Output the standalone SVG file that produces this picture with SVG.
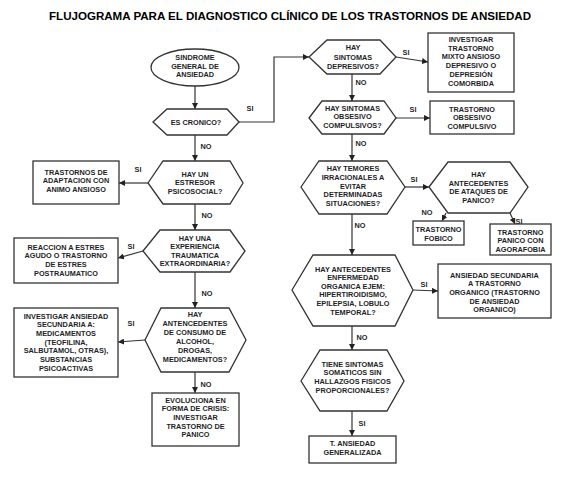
<svg xmlns="http://www.w3.org/2000/svg" width="579" height="477" viewBox="0 0 579 477">
<style>
.n{fill:#fff;stroke:#333;stroke-width:1.3}
.t{font-family:"Liberation Sans",Arial,sans-serif;font-size:7.3px;font-weight:bold;fill:#1e1e28;text-anchor:middle}
.c{fill:none;stroke:#333;stroke-width:1.2;marker-end:url(#a)}
.title{font-family:"Liberation Sans",Arial,sans-serif;font-size:10.2px;font-weight:bold;fill:#000;text-anchor:middle}
</style>
<defs>
<marker id="a" viewBox="0 0 10 10" refX="10" refY="5" markerWidth="6" markerHeight="6" markerUnits="userSpaceOnUse" orient="auto">
<path d="M0,0 L10,5 L0,10 z" fill="#222"/>
</marker>
</defs>
<rect width="579" height="477" fill="#fff"/>
<text class="title" x="290" y="20" textLength="482" lengthAdjust="spacingAndGlyphs">FLUJOGRAMA PARA EL DIAGNOSTICO CLÍNICO DE LOS TRASTORNOS DE ANSIEDAD</text>

<g id="connectors">
<path class="c" d="M195,86 V109"/>
<path class="c" d="M239,122 H274 V57 H309"/>
<path class="c" d="M195,135 V161"/>
<path class="c" d="M148,183 H119"/>
<path class="c" d="M195,204 V230"/>
<path class="c" d="M143,251 L118,258"/>
<path class="c" d="M195,272 V308"/>
<path class="c" d="M145,340 L118,342"/>
<path class="c" d="M195,372 V393"/>
<path class="c" d="M396,57 L428,62"/>
<path class="c" d="M352,74 V101"/>
<path class="c" d="M396,118 H430"/>
<path class="c" d="M352,134 V161"/>
<path class="c" d="M405,187 H429"/>
<path class="c" d="M446,213 L442,221"/>
<path class="c" d="M510,213 L515,224"/>
<path class="c" d="M352,214 V255"/>
<path class="c" d="M413,290 L438,291"/>
<path class="c" d="M352,326 V350"/>
<path class="c" d="M352,411 V436"/>
<g class="t">
<text x="250" y="111">SI</text>
<text x="206" y="149">NO</text>
<text x="138" y="172">SI</text>
<text x="207" y="218">NO</text>
<text x="131" y="249">SI</text>
<text x="207" y="296">NO</text>
<text x="131" y="326">SI</text>
<text x="206" y="387">NO</text>
<text x="406" y="55">SI</text>
<text x="361" y="85">NO</text>
<text x="413" y="112">SI</text>
<text x="361" y="146">NO</text>
<text x="414" y="182">SI</text>
<text x="427" y="215">NO</text>
<text x="519" y="224">SI</text>
<text x="360" y="228">NO</text>
<text x="424" y="287">SI</text>
<text x="362" y="340">NO</text>
<text x="362" y="426">SI</text>
</g>
</g>

<g id="n-inicio">
<ellipse class="n" cx="195" cy="67.5" rx="44" ry="18.5"/>
<text class="t" x="195" y="60">SINDROME</text>
<text class="t" x="195" y="68.7">GENERAL DE</text>
<text class="t" x="195" y="77.4">ANSIEDAD</text>
</g>

<g id="n-cronico">
<polygon class="n" points="153,122 167,109 227,109 239,122 227,135 167,135"/>
<text class="t" x="196" y="124.6">ES CRONICO?</text>
</g>

<g id="n-estresor">
<polygon class="n" points="148,183 163,161 230,161 243,183 230,204 163,204"/>
<text class="t" x="195" y="176.6">HAY UN</text>
<text class="t" x="195" y="185.3">ESTRESOR</text>
<text class="t" x="195" y="194">PSICOSOCIAL?</text>
</g>

<g id="n-adaptacion">
<rect class="n" x="33" y="161" width="86" height="43"/>
<text class="t" x="76" y="174.6">TRASTORNOS DE</text>
<text class="t" x="76" y="183.3">ADAPTACION CON</text>
<text class="t" x="76" y="192">ANIMO ANSIOSO</text>
</g>

<g id="n-traumatica">
<polygon class="n" points="143,251 160,230 230,230 245,251 230,272 160,272"/>
<text class="t" x="195" y="240.5">HAY UNA</text>
<text class="t" x="195" y="249">EXPERIENCIA</text>
<text class="t" x="195" y="257.5">TRAUMATICA</text>
<text class="t" x="195" y="266">EXTRAORDINARIA?</text>
</g>

<g id="n-reaccion">
<rect class="n" x="14" y="238" width="104" height="45"/>
<text class="t" x="66" y="249.6">REACCION A ESTRES</text>
<text class="t" x="66" y="258.3">AGUDO O TRASTORNO</text>
<text class="t" x="66" y="267">DE ESTRES</text>
<text class="t" x="66" y="275.7">POSTRAUMATICO</text>
</g>

<g id="n-consumo">
<polygon class="n" points="145,340 161,308 229,308 246,340 229,372 161,372"/>
<text class="t" x="195" y="316.6">HAY</text>
<text class="t" x="195" y="325.6">ANTENCEDENTES</text>
<text class="t" x="195" y="334.6">DE CONSUMO DE</text>
<text class="t" x="195" y="343.6">ALCOHOL,</text>
<text class="t" x="195" y="352.6">DROGAS,</text>
<text class="t" x="195" y="361.6">MEDICAMENTOS?</text>
</g>

<g id="n-secundaria-med">
<rect class="n" x="14" y="308" width="104" height="69"/>
<text class="t" x="66" y="318.6">INVESTIGAR ANSIEDAD</text>
<text class="t" x="66" y="327.3">SECUNDARIA A:</text>
<text class="t" x="66" y="336">MEDICAMENTOS</text>
<text class="t" x="66" y="344.7">(TEOFILINA,</text>
<text class="t" x="66" y="353.4">SALBUTAMOL, OTRAS),</text>
<text class="t" x="66" y="362.1">SUBSTANCIAS</text>
<text class="t" x="66" y="370.8">PSICOACTIVAS</text>
</g>

<g id="n-crisis">
<rect class="n" x="152" y="393" width="87" height="53"/>
<text class="t" x="195.5" y="402.6">EVOLUCIONA EN</text>
<text class="t" x="195.5" y="411.3">FORMA DE CRISIS:</text>
<text class="t" x="195.5" y="420">INVESTIGAR</text>
<text class="t" x="195.5" y="428.7">TRASTORNO DE</text>
<text class="t" x="195.5" y="437.4">PANICO</text>
</g>

<g id="n-depresivos">
<polygon class="n" points="309,57 327,40 380,40 396,57 380,74 327,74"/>
<text class="t" x="353" y="50.3">HAY</text>
<text class="t" x="353" y="59.7">SINTOMAS</text>
<text class="t" x="353" y="69.1">DEPRESIVOS?</text>
</g>

<g id="n-mixto">
<rect class="n" x="428" y="33" width="86" height="59"/>
<text class="t" x="471" y="41.8">INVESTIGAR</text>
<text class="t" x="471" y="50.6">TRASTORNO</text>
<text class="t" x="471" y="59.4">MIXTO ANSIOSO</text>
<text class="t" x="471" y="68.2">DEPRESIVO O</text>
<text class="t" x="471" y="77">DEPRESIÓN</text>
<text class="t" x="471" y="85.8">COMORBIDA</text>
</g>

<g id="n-obsesivo">
<polygon class="n" points="309,118 322,101 384,101 396,118 384,134 322,134"/>
<text class="t" x="352.5" y="110.6">HAY SINTOMAS</text>
<text class="t" x="352.5" y="119.3">OBSESIVO</text>
<text class="t" x="352.5" y="128">COMPULSIVOS?</text>
</g>

<g id="n-toc">
<rect class="n" x="430" y="101" width="84" height="33"/>
<text class="t" x="472" y="111.6">TRASTORNO</text>
<text class="t" x="472" y="120.3">OBSESIVO</text>
<text class="t" x="472" y="129">COMPULSIVO</text>
</g>

<g id="n-temores">
<polygon class="n" points="301,187 319,161 387,161 405,187 387,214 319,214"/>
<text class="t" x="353" y="171">HAY TEMORES</text>
<text class="t" x="353" y="179.8">IRRACIONALES A</text>
<text class="t" x="353" y="188.6">EVITAR</text>
<text class="t" x="353" y="197.4">DETERMINADAS</text>
<text class="t" x="353" y="206.2">SITUACIONES?</text>
</g>

<g id="n-ataques">
<polygon class="n" points="429,187 448,162 510,162 528,187 510,213 448,213"/>
<text class="t" x="478.5" y="176.6">HAY</text>
<text class="t" x="478.5" y="185.5">ANTECEDENTES</text>
<text class="t" x="478.5" y="194.4">DE ATAQUES DE</text>
<text class="t" x="478.5" y="203.3">PANICO?</text>
</g>

<g id="n-fobico">
<rect class="n" x="413" y="221" width="51" height="24"/>
<text class="t" x="438.5" y="232.4">TRASTORNO</text>
<text class="t" x="438.5" y="240.9">FOBICO</text>
</g>

<g id="n-agorafobia">
<rect class="n" x="490" y="224" width="61" height="31"/>
<text class="t" x="520.5" y="234.6">TRASTORNO</text>
<text class="t" x="520.5" y="243.3">PANICO CON</text>
<text class="t" x="520.5" y="252">AGORAFOBIA</text>
</g>

<g id="n-organica">
<polygon class="n" points="292,290 313,255 395,255 413,290 395,326 313,326"/>
<text class="t" x="353" y="271.6">HAY ANTECEDENTES</text>
<text class="t" x="353" y="280.2">ENFERMEDAD</text>
<text class="t" x="353" y="288.8">ORGANICA EJEM:</text>
<text class="t" x="353" y="297.4">HIPERTIROIDISMO,</text>
<text class="t" x="353" y="306">EPILEPSIA, LOBULO</text>
<text class="t" x="353" y="314.6">TEMPORAL?</text>
</g>

<g id="n-sec-organico">
<rect class="n" x="438" y="264" width="113" height="54"/>
<text class="t" x="494.5" y="277.6">ANSIEDAD SECUNDARIA</text>
<text class="t" x="494.5" y="286.3">A TRASTORNO</text>
<text class="t" x="494.5" y="295">ORGANICO (TRASTORNO</text>
<text class="t" x="494.5" y="303.7">DE ANSIEDAD</text>
<text class="t" x="494.5" y="312.4">ORGANICO)</text>
</g>

<g id="n-somaticos">
<polygon class="n" points="301,381 320,350 387,350 404,381 387,411 320,411"/>
<text class="t" x="352.5" y="366.6">TIENE SINTOMAS</text>
<text class="t" x="352.5" y="375.4">SOMATICOS SIN</text>
<text class="t" x="352.5" y="384.2">HALLAZGOS FISICOS</text>
<text class="t" x="352.5" y="393">PROPORCIONALES?</text>
</g>

<g id="n-tag">
<rect class="n" x="309" y="436" width="87" height="27"/>
<text class="t" x="352.5" y="445.8">T. ANSIEDAD</text>
<text class="t" x="352.5" y="454.5">GENERALIZADA</text>
</g>
</svg>
